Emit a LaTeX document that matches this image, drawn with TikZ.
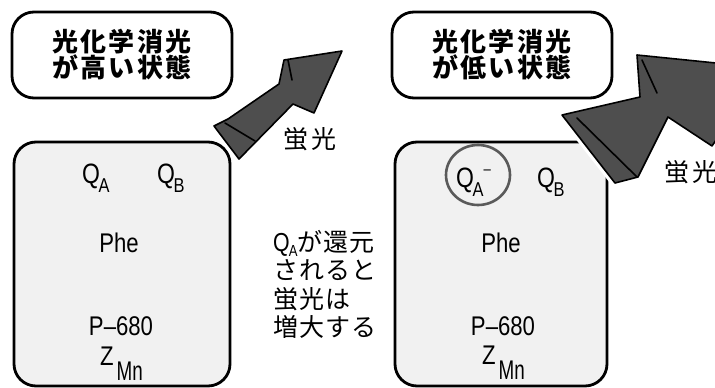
\documentclass[tikz,border=0pt]{standalone}
\usepackage{fontspec}
\usepackage{graphicx}
\newfontfamily\jpt{Noto Sans CJK JP}[LetterSpace=8]
\newfontfamily\jpm{Noto Sans CJK JP}[LetterSpace=4]
\newfontfamily\jpl{Noto Sans CJK JP}[LetterSpace=14]
\newfontfamily\lat{Liberation Sans}[FakeStretch=0.82]
\newcommand\mysub[1]{\kern-1.5pt\raisebox{-9pt}{\fontsize{20}{20}\selectfont #1}}
\newcommand\midsub[1]{\kern-1pt\raisebox{-5pt}{\fontsize{16}{16}\selectfont #1}}
\definecolor{arrowgray}{HTML}{4E4E4E}
\definecolor{boxfill}{HTML}{F1F1F1}
\definecolor{ringgray}{HTML}{5A5A5A}
\begin{document}
\begin{tikzpicture}[x=1pt,y=-1pt,
  titlebox/.style={draw, line width=2.8pt, rounded corners=22pt, minimum width=220pt,
    minimum height=86pt, align=center, inner sep=0pt,
    font=\jpt\bfseries\fontsize{26}{26}\selectfont},
  mainbox/.style={draw, fill=boxfill, line width=2.8pt, rounded corners=22pt,
    minimum height=244pt, inner sep=0pt},
  lt/.style={font=\lat\fontsize{28}{28}\selectfont, inner sep=0pt},
  lm/.style={font=\lat\fontsize{27}{27}\selectfont, inner sep=0pt},
  jplabel/.style={font=\jpl\fontsize{25}{25}\selectfont, inner sep=0pt},
  midtext/.style={font=\jpm\fontsize{25}{28.5}\selectfont, inner sep=0pt, align=left},
  halo/.style={draw=white, line width=8pt, line join=round},
  arrowbody/.style={fill=arrowgray, draw=black, line width=1.6pt, line join=round},
  edge3d/.style={draw=black, line width=1.6pt, line cap=round}]
\useasboundingbox (0,0) rectangle (715,388);
\clip (0,0) rectangle (715,388);

% title boxes
\node[titlebox] (t1) at (122,55) {光化学消光\\が高い状態};
\node[titlebox] (t2) at (502,55) {光化学消光\\が低い状態};

% main boxes
\node[mainbox, minimum width=216pt] (b1) at (122,264) {};
\node[mainbox, minimum width=212pt] (b2) at (501,264) {};

% left box contents
\node[lt, anchor=base west] (qa1) at (82,183) {Q\mysub{A}};
\node[lt, anchor=base west] (qb1) at (157,183) {Q\mysub{B}};
\node[lm, anchor=base] (phe1) at (119,252) {Phe};
\node[lm, anchor=base] (p1) at (121,335) {P–680};
\node[lm, anchor=base west] (z1) at (100,365) {Z\hspace{3pt}\raisebox{-15pt}{\scalebox{0.85}[1]{Mn}}};

% right box contents
\node[lt, anchor=base west] (qa2) at (456,187) {Q\mysub{A}\raisebox{13pt}{\fontsize{16}{16}\selectfont –}};
\draw[ringgray, line width=2.6pt] (478,175) ellipse [x radius=32, y radius=30];
\node[lt, anchor=base west] (qb2) at (537,187) {Q\mysub{B}};
\node[lm, anchor=base] (phe2) at (501,252) {Phe};
\node[lm, anchor=base] (p2) at (503,335) {P–680};
\node[lm, anchor=base west] (z2) at (482,364) {Z\hspace{3pt}\raisebox{-15pt}{\scalebox{0.85}[1]{Mn}}};

% middle text
\node[midtext, anchor=north west] (mid) at (273,230)
  {{\lat\fontsize{26}{26}\selectfont Q\midsub{A}}が還元\\されると\\蛍光は\\増大する};

% left arrow
\path[halo] (214,126) -- (228,119) -- (279,84) -- (284,60) -- (342,51)
  -- (314,113) -- (293,104) -- (239,159) -- cycle;
\path[arrowbody] (214,126) -- (228,119) -- (279,84) -- (284,60) -- (342,51)
  -- (314,113) -- (293,104) -- (239,159) -- cycle;
\path[edge3d] (225,123) -- (255,141);
\path[edge3d] (288,60) -- (292,80);
\node[jplabel] (fl1) at (310,139) {蛍光};

% right arrow
\path[halo] (562,115) -- (640,97) -- (637,55) -- (765,68)
  -- (712,146) -- (668,117) -- (638,177) -- (615,183) -- cycle;
\path[arrowbody] (562,115) -- (640,97) -- (637,55) -- (765,68)
  -- (712,146) -- (668,117) -- (638,177) -- (615,183) -- cycle;
\path[edge3d] (577,118) -- (637,177);
\path[edge3d] (642,60) -- (657,93);
\node[jplabel, anchor=west] (fl2) at (664,172) {蛍光};
\end{tikzpicture}
\end{document}
